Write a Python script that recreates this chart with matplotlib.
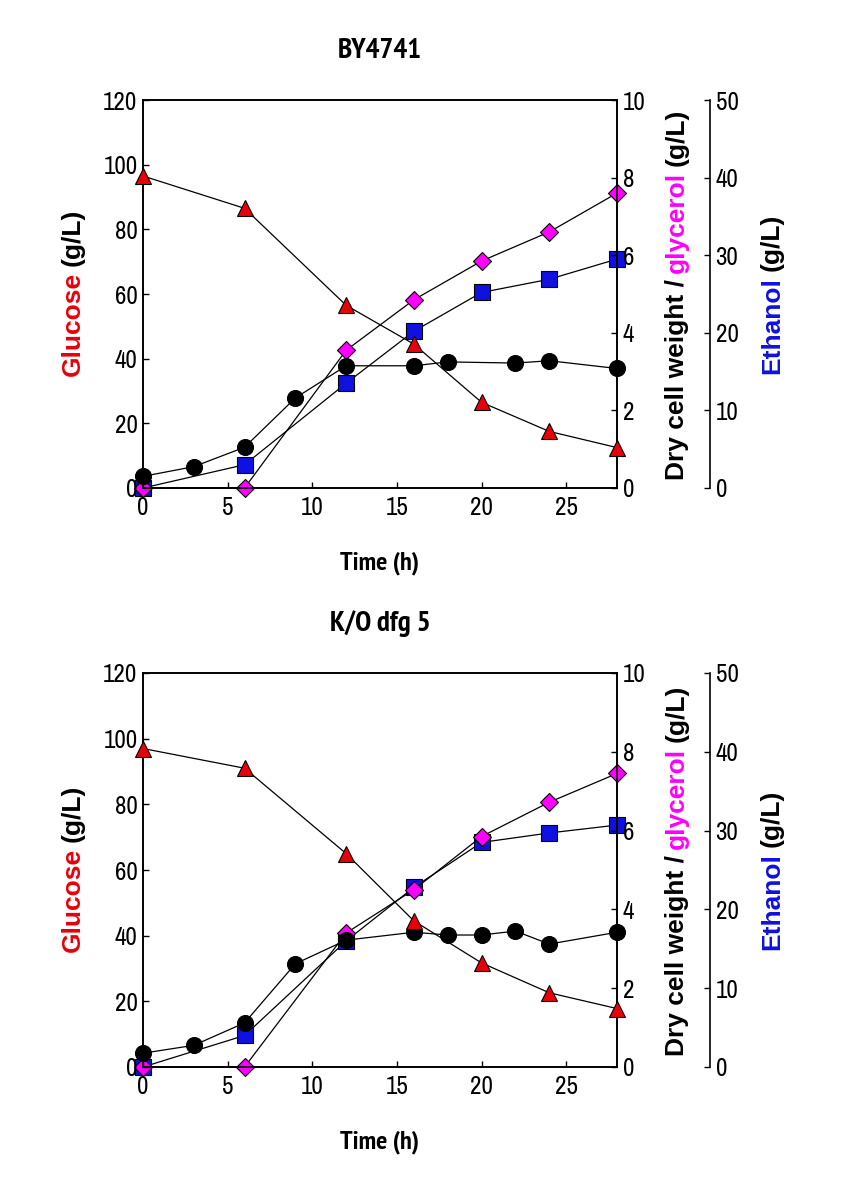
import matplotlib
matplotlib.use('Agg')
import matplotlib.pyplot as plt
from matplotlib import font_manager

# --- data ---
titles = ["BY4741", "K/O dfg 5"]

t_glc = [0, 6, 12, 16, 20, 24, 28]
t_dcw = [0, 3, 6, 9, 12, 16, 18, 22, 24, 28]
t_dcw2 = [0, 3, 6, 9, 12, 16, 18, 20, 22, 24, 28]

glucose_wt = [96.5, 86.5, 56.5, 44.5, 26.5, 17.5, 12.5]
dcw_wt = [0.3, 0.55, 1.05, 2.32, 3.15, 3.15, 3.25, 3.22, 3.28, 3.08]
glycerol_wt = [0.0, 0.0, 3.55, 4.85, 5.85, 6.6, 7.6]
ethanol_wt = [0.0, 3.0, 13.5, 20.2, 25.2, 26.9, 29.5]

glucose_ko = [97.0, 91.0, 65.0, 44.5, 31.7, 22.6, 17.8]
dcw_ko = [0.35, 0.55, 1.12, 2.62, 3.22, 3.42, 3.35, 3.35, 3.45, 3.12, 3.42]
glycerol_ko = [0.0, 0.0, 3.4, 4.5, 5.85, 6.72, 7.45]
ethanol_ko = [0.0, 4.0, 16.0, 22.8, 28.5, 29.7, 30.7]

panels = [
    (t_glc, t_dcw, glucose_wt, dcw_wt, glycerol_wt, ethanol_wt),
    (t_glc, t_dcw2, glucose_ko, dcw_ko, glycerol_ko, ethanol_ko),
]

# narrow fonts: one for tick numbers, one with a real bold face for titles
narrow_pref = ['Liberation Sans Narrow', 'Arial Narrow', 'Archivo Narrow', 'PT Sans Narrow',
               'Roboto Condensed', 'Pragati Narrow', 'Fira Sans Condensed',
               'IBM Plex Sans Condensed', 'Encode Sans Condensed', 'Liberation Sans']
weights = {}
for f in font_manager.fontManager.ttflist:
    w = f.weight if isinstance(f.weight, int) else 700 if 'bold' in str(f.weight) else 400
    weights.setdefault(f.name, set()).add(w)
NARROW = [f for f in narrow_pref if f in weights][:1] + ['DejaVu Sans']
NARROW_B = [f for f in narrow_pref if f in weights and max(weights[f]) >= 650][:1] + ['DejaVu Sans']
plt.rcParams['font.family'] = ['Liberation Sans', 'DejaVu Sans']

fig = plt.figure(figsize=(8.51, 11.77), dpi=100)

W, H = 851, 1177
boxes = [(143, 100, 617, 488), (143, 673, 617, 1067)]

RED = '#e8000b'
MAG = '#ff00ff'
BLUE = '#1010e0'


def stacked_label(x_px, yc_px, parts, size=19):
    # multicolour rotated label: pieces stacked from bottom to top
    texts = []
    for s, c in parts:
        texts.append(fig.text(x_px / W, 0.5, s, rotation=90, color=c, fontsize=size,
                              fontweight='bold', ha='center', va='bottom'))
    fig.canvas.draw()
    r = fig.canvas.get_renderer()
    gap = size * 0.32
    heights = [t.get_window_extent(r).height for t in texts]
    total = sum(heights) + gap * (len(texts) - 1)
    y = (H - yc_px) - total / 2
    for t, h in zip(texts, heights):
        t.set_y(y / H)
        y += h + gap


for (l, tp, rgt, bt), title, data in zip(boxes, titles, panels):
    tg, td, glc, dcw, gly, eth = data
    ax = fig.add_axes([l / W, 1 - bt / H, (rgt - l) / W, (bt - tp) / H])
    ax2 = ax.twinx()
    ax3 = ax.twinx()
    ax3.spines['right'].set_position(('axes', (710 - l) / (rgt - l)))
    for s in ['top', 'left', 'bottom']:
        ax3.spines[s].set_visible(False)

    ax.set_xlim(0, 28)
    ax.set_ylim(0, 120)
    ax2.set_ylim(0, 10)
    ax3.set_ylim(0, 50)
    ax.set_xticks([0, 5, 10, 15, 20, 25])
    ax.set_yticks(range(0, 121, 20))
    ax2.set_yticks(range(0, 11, 2))
    ax3.set_yticks(range(0, 51, 10))

    for a in (ax, ax2, ax3):
        a.tick_params(direction='in', length=4, width=1, labelsize=18, pad=4)
        for lab in a.get_xticklabels() + a.get_yticklabels():
            lab.set_fontfamily(NARROW)
        for sp in a.spines.values():
            sp.set_linewidth(1.2)
    ax.tick_params(axis='x', pad=6)

    kw = dict(color='black', lw=0.9, markeredgecolor='black', markeredgewidth=0.8, clip_on=False)
    ax3.plot(tg, eth, marker='s', markersize=11.5, markerfacecolor=BLUE, zorder=3, **kw)
    ax2.plot(tg, gly, marker='D', markersize=9.5, markerfacecolor=MAG, zorder=3, **kw)
    ax2.plot(td, dcw, marker='o', markersize=11.5, markerfacecolor='black', zorder=3, **kw)
    ax.plot(tg, glc, marker='^', markersize=12, markerfacecolor=RED, zorder=3, **kw)
    ax.set_zorder(ax3.get_zorder() + 2)
    ax2.set_zorder(ax3.get_zorder() + 1)
    ax.patch.set_visible(False)

    ax.set_xlabel('Time (h)', fontsize=19, fontweight='bold', family=NARROW_B)
    ax.xaxis.set_label_coords(0.5, -(75.0 / (bt - tp)))
    ax.xaxis.label.set_va('center')
    fig.text(380 / W, 1 - (tp - 49) / H, title, fontsize=21, fontweight='bold',
             family=NARROW_B, ha='center', va='center')

    yc = (tp + bt) / 2
    stacked_label(73, yc - 2, [('Glucose', RED), ('(g/L)', 'black')])
    stacked_label(677, yc, [('Dry cell weight /', 'black'), ('glycerol', MAG), ('(g/L)', 'black')])
    stacked_label(772, yc, [('Ethanol', BLUE), ('(g/L)', 'black')])

fig.savefig('out.png', dpi=100)
